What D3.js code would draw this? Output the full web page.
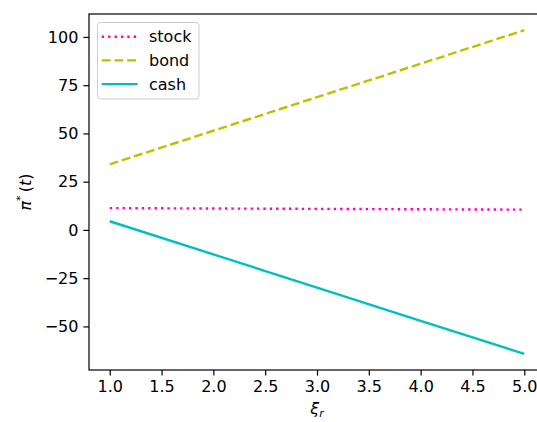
<!DOCTYPE html>
<html>
<head>
<meta charset="utf-8">
<script src="https://cdn.jsdelivr.net/npm/d3@7"></script>
<style>
  html, body { margin: 0; padding: 0; background: #fff; }
  svg { display: block; font-family: "DejaVu Sans", sans-serif; }
</style>
</head>
<body>
<svg id="chart" width="537" height="422"></svg>
<script>
// Risk-aversion parameter ξ_r
const xi = [1, 2, 3, 4, 5];
// Optimal allocations π*(t) per asset
const stock = [11.3, 11.1, 10.9, 10.7, 10.5];
const bond = [34.0, 51.4, 68.8, 86.1, 103.5];
const cash = [4.5, -12.7, -29.9, -47.1, -64.2];
const xTicks = [1.0, 1.5, 2.0, 2.5, 3.0, 3.5, 4.0, 4.5, 5.0];
const yTicks = [-50, -25, 0, 25, 50, 75, 100];

const series = [
  { name: "stock", values: stock, color: "#f0c", dash: "2.4,4" },
  { name: "bond", values: bond, color: "#bfbf00", dash: "8.9,3.8" },
  { name: "cash", values: cash, color: "#00bfbf", dash: null }
];

const svg = d3.select("#chart");
const plot = { left: 89, right: 545, top: 14, bottom: 370 };

// x: data extent padded by 5% on each side
const xMin = d3.min(xi), xMax = d3.max(xi), xPad = (xMax - xMin) * 0.05;
const x = d3.scaleLinear().domain([xMin - xPad, xMax + xPad]).range([plot.left, plot.right]);

const allY = stock.concat(bond, cash);
const yMin = d3.min(allY), yMax = d3.max(allY), yPad = (yMax - yMin) * 0.05;
const y = d3.scaleLinear().domain([yMin - yPad, yMax + yPad]).range([plot.bottom, plot.top]);

// Lines
const line = d3.line().x((d, i) => x(xi[i])).y(d => y(d));
series.forEach(s => {
  svg.append("path")
    .datum(s.values)
    .attr("d", line)
    .attr("fill", "none")
    .attr("stroke", s.color)
    .attr("stroke-width", 2.4)
    .attr("stroke-dasharray", s.dash)
    .attr("stroke-linecap", "butt");
});

// Axes
const xAxis = d3.axisBottom(x).tickValues(xTicks).tickFormat(d3.format(".1f")).tickSizeOuter(0).tickSize(5.6).tickPadding(5);
const yAxis = d3.axisLeft(y).tickValues(yTicks).tickFormat(d => d < 0 ? "\u2212" + Math.abs(d) : d).tickSizeOuter(0).tickSize(5.6).tickPadding(5);

const gx = svg.append("g").attr("transform", `translate(0,${plot.bottom})`).call(xAxis);
const gy = svg.append("g").attr("transform", `translate(${plot.left},0)`).call(yAxis);
[gx, gy].forEach(g => {
  g.select(".domain").remove();
  g.selectAll(".tick line").attr("stroke", "#000").attr("stroke-width", 1.2);
  g.selectAll(".tick text").attr("fill", "#000").style("font-size", "16px").style("font-family", "DejaVu Sans");
});

// Frame (spines)
svg.append("rect")
  .attr("x", plot.left).attr("y", plot.top)
  .attr("width", plot.right - plot.left).attr("height", plot.bottom - plot.top)
  .attr("fill", "none").attr("stroke", "#000").attr("stroke-width", 1.2);

// Axis labels
const xl = svg.append("text")
  .attr("x", (plot.left + plot.right) / 2).attr("y", 414)
  .attr("text-anchor", "middle").style("font-size", "16px");
xl.append("tspan").style("font-style", "italic").text("ξ");
xl.append("tspan").style("font-style", "italic").style("font-size", "11px").attr("dy", 3).text("r");

const yl = svg.append("text")
  .attr("transform", `translate(31,${(plot.top + plot.bottom) / 2}) rotate(-90)`)
  .attr("text-anchor", "middle").style("font-size", "16px");
yl.append("tspan").style("font-style", "italic").text("π");
yl.append("tspan").style("font-size", "11px").attr("dy", -7).text("*");
yl.append("tspan").attr("dy", 7).text("\u2009(");
yl.append("tspan").style("font-style", "italic").text("t");
yl.append("tspan").text(")");

// Legend
const legend = svg.append("g").attr("transform", "translate(97.5,22.5)");
legend.append("rect")
  .attr("width", 101.5).attr("height", 76.5).attr("rx", 3)
  .attr("fill", "#fff").attr("fill-opacity", 0.8)
  .attr("stroke", "#ccc").attr("stroke-width", 1);
series.forEach((s, i) => {
  const cy = 14.2 + i * 23.7;
  legend.append("line")
    .attr("x1", 4.2).attr("x2", 40.2).attr("y1", cy).attr("y2", cy)
    .attr("stroke", s.color).attr("stroke-width", 2.4)
    .attr("stroke-dasharray", s.dash);
  legend.append("text")
    .attr("x", 51.5).attr("y", cy).attr("dy", "0.35em")
    .style("font-size", "16px").attr("fill", "#000").text(s.name);
});
</script>
</body>
</html>
